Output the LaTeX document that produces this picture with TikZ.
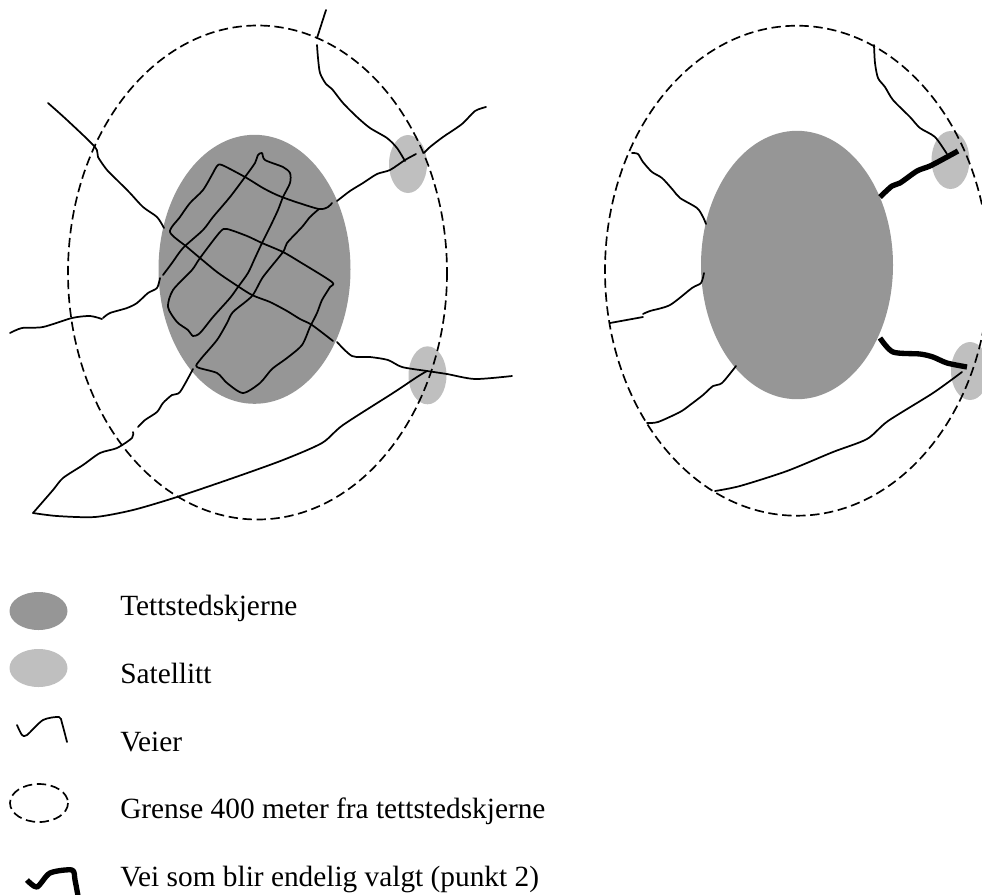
\documentclass[tikz,border=0pt]{standalone}
\usepackage{fontspec}
\setmainfont{Liberation Serif}
\definecolor{core}{RGB}{150,150,150}
\definecolor{satellite}{RGB}{191,191,191}
\tikzset{
  road/.style={line width=1.3pt, line join=round, line cap=round},
  chosen/.style={line width=4pt, line join=round},
  limit/.style={line width=1.25pt, dash pattern=on 7pt off 3.5pt},
  label/.style={anchor=base west, font=\fontsize{22}{26}\selectfont, inner sep=0pt},
}
\newcommand{\roadline}[2][road]{\draw[#1] plot[smooth, tension=0.45] coordinates {#2};}

\begin{document}
\begin{tikzpicture}[x=0.75pt, y=-0.75pt]
  \clip (0,0) rectangle (982,894);

  % ---------------- left: all roads ----------------
  \fill[core] (254.5,269.3) ellipse (96 and 134.5);
  \fill[satellite] (408,164) ellipse (19 and 29);
  \fill[satellite] (427.5,375.3) ellipse (19 and 29);
  \draw[limit] (257.5,272.5) ellipse (189.5 and 247);
  % roads coming in from outside
  \roadline{(326,10) (317,38)}
  \roadline{(317,45) (318,58) (320,73) (326,84) (332,89) (343,103) (357,117) (370,128) (387,138) (397,148) (405,161)}
  \roadline{(486,107) (475,111) (462,124) (443,137) (430,147) (424,153)}
  \roadline{(48,103) (67,120) (95,147) (98,157) (107,170) (117,180) (130,193) (143,207) (157,217) (164,228)}
  \roadline{(10,333) (22,328) (43,327) (72,318) (90,316) (102,319)}
  \roadline{(103,318) (110,313) (127,308) (137,303) (148,293) (157,288) (160,278)}
  % long road through the core
  \roadline{(416,154) (405,160) (390,170) (377,174) (363,183) (350,191) (337,201)}
  \roadline{(332,203) (328,207) (319,209) (293,201) (277,195) (263,188) (245,177) (222,165) (217,166) (213,173) (203,190) (190,203) (180,217) (170,232) (187,247) (200,258) (217,272) (233,283) (252,295) (270,302) (287,311) (300,319) (312,325) (333,341)}
  \roadline{(337,342) (352,356) (370,357) (388,360) (402,367) (427,371) (447,374) (475,379) (512,376)}
  % street grid inside the core
  \roadline{(163,275) (172,263) (183,248) (203,230) (213,217) (230,197) (245,177) (255,163) (258,155) (262,153) (265,160) (283,167) (290,173) (290,183) (283,197) (278,210) (270,227) (262,243) (255,258) (248,273) (238,287) (230,298) (213,317) (200,333) (193,336) (188,330) (177,322) (168,307) (173,290) (192,270) (200,258) (220,232) (227,229) (247,236) (262,243) (283,252) (300,262) (332,282) (330,287) (322,300) (317,313) (310,327) (302,345) (287,358) (272,369) (260,383) (243,393) (227,383) (217,373) (197,367) (200,360) (217,340) (227,323) (233,312) (252,296) (263,277) (283,252) (287,243) (302,227) (310,217) (319,209)}
  % road along the south side
  \roadline{(193,369) (180,392) (172,395) (163,403) (157,412) (145,420) (138,427)}
  \roadline{(133,432) (132,438) (117,448) (100,453) (83,465) (63,478) (53,490) (33,513)}
  \roadline{(33,513) (57,516) (95,517) (133,510) (177,497) (233,478) (283,460) (322,443) (343,425) (393,393) (417,377) (427,371)}

  % ---------------- right: chosen roads ----------------
  \fill[core] (797,265) ellipse (96 and 134.2);
  \fill[satellite] (950.5,160) ellipse (19 and 29);
  \fill[satellite] (970,371) ellipse (19 and 29);
  \draw[limit] (797,270.7) ellipse (192 and 245);
  \roadline{(874,45) (875,63) (878,78) (885,87) (893,100) (910,117) (920,128) (935,137) (947,154)}
  \roadline{(632,153) (638,154) (643,162) (652,172) (662,178) (673,190) (680,198) (697,208) (703,217) (706,224)}
  \roadline{(704,273) (701,283) (692,288) (670,305) (650,311) (643,314)}
  \roadline{(643,317) (610,323)}
  \roadline{(736,366) (722,383) (713,386) (703,395) (690,405) (680,412) (658,422) (647,423)}
  \roadline{(715,491) (740,486) (787,471) (833,452) (867,439) (888,421) (933,393) (962,372)}
  % the two final links
  \roadline[chosen]{(880,197) (892,186) (900,183) (917,171) (930,166) (947,157) (958,151)}
  \roadline[chosen]{(880,338) (893,352) (920,354) (933,357) (947,363) (967,367)}

  % ---------------- legend ----------------
  \fill[core] (38.5,611) ellipse (29 and 19);
  \fill[satellite] (38.5,668) ellipse (29 and 19);
  \roadline{(17,725) (22,735) (27,735) (43,720) (59,717) (62,723) (67,742)}
  \draw[limit] (39,803) ellipse (29 and 19);
  \roadline[chosen]{(27,880) (37,887) (50,873) (72,870) (75,880) (78,896)}
  \node[label] (corelabel) at (120,615) {Tettstedskjerne};
  \node[label] (satlabel) at (120,683) {Satellitt};
  \node[label] (roadlabel) at (120,751) {Veier};
  \node[label] (limitlabel) at (120,818) {Grense 400 meter fra tettstedskjerne};
  \node[label] (chosenlabel) at (120,886) {Vei som blir endelig valgt (punkt 2)};
\end{tikzpicture}
\end{document}
